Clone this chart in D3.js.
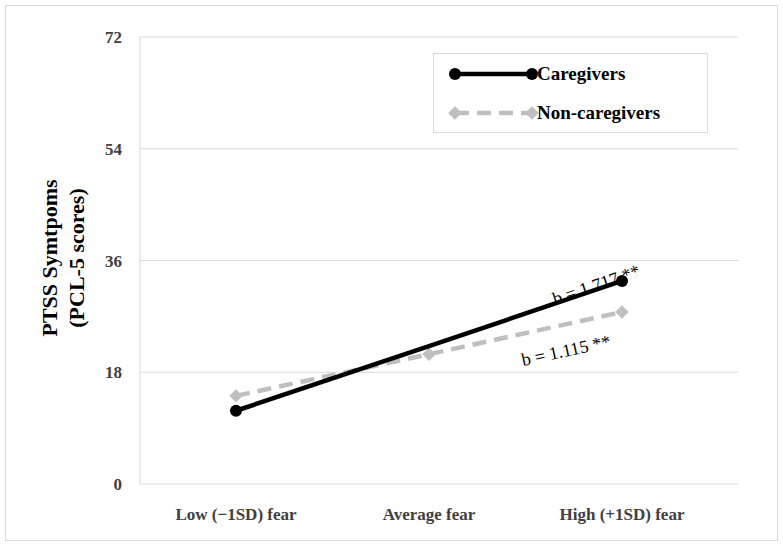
<!DOCTYPE html>
<html><head><meta charset="UTF-8">
<script src="https://d3js.org/d3.v7.min.js"></script>
<style>body{margin:0;background:#fff}text{font-family:"Liberation Serif","DejaVu Serif",serif}</style>
</head><body>
<script>
const categories = ["Low (\u22121SD) fear", "Average fear", "High (+1SD) fear"];
const caregivers = [11.8, 22.2, 32.7];
const nonCaregivers = [14.2, 20.9, 27.7];
const yTicks = [0, 18, 36, 54, 72];

const W = 783, H = 547;
const svg = d3.select("body").append("svg").attr("width", W).attr("height", H);
svg.append("rect").attr("x", 5.5).attr("y", 5.5).attr("width", 772).attr("height", 535)
   .attr("fill", "none").attr("stroke", "#d9d9d9");

const x = d3.scalePoint().domain(categories).range([236, 622]);
const y = d3.scaleLinear().domain([0, 72]).range([484, 37]);

// gridlines
svg.append("g").selectAll("line").data(yTicks).join("line")
   .attr("x1", 140).attr("x2", 738).attr("y1", d => y(d)).attr("y2", d => y(d))
   .attr("stroke", "#d9d9d9");
svg.append("line").attr("x1", 140).attr("x2", 140).attr("y1", y(0)).attr("y2", y(72)).attr("stroke", "#d9d9d9");

svg.append("g").selectAll("text").data(yTicks).join("text")
   .attr("x", 122).attr("y", d => y(d) + 6).attr("text-anchor", "end")
   .attr("font-size", 17).attr("font-weight", "bold").attr("fill", "#404040").text(d => d);
svg.append("g").selectAll("text").data(categories).join("text")
   .attr("x", d => x(d)).attr("y", 520).attr("text-anchor", "middle")
   .attr("font-size", 17).attr("font-weight", "bold").attr("fill", "#404040").text(d => d);

const yl = svg.append("text").attr("transform", "translate(60,258) rotate(-90)")
   .attr("text-anchor", "middle").attr("font-size", 22).attr("font-weight", "bold");
yl.append("tspan").attr("x", 0).attr("dy", -3).text("PTSS Symtpoms");
yl.append("tspan").attr("x", 0).attr("dy", 27).text("(PCL-5 scores)");

const line = d3.line().x((d, i) => x(categories[i])).y(d => y(d));
const diamond = d3.symbol().type(d3.symbolSquare).size(90);
// non-caregivers
svg.append("path").attr("d", line(nonCaregivers)).attr("fill", "none")
   .attr("stroke", "#bfbfbf").attr("stroke-width", 4.5).attr("stroke-dasharray", "14,8");
svg.append("g").selectAll("path").data(nonCaregivers).join("path")
   .attr("d", diamond).attr("fill", "#bfbfbf")
   .attr("transform", (d, i) => `translate(${x(categories[i])},${y(d)}) rotate(45)`);
// caregivers
svg.append("path").attr("d", line(caregivers)).attr("fill", "none")
   .attr("stroke", "#000").attr("stroke-width", 4.5);
svg.append("g").selectAll("circle").data([caregivers[0], caregivers[2]]).join("circle")
   .attr("cx", (d, i) => x(categories[i * 2])).attr("cy", d => y(d)).attr("r", 6).attr("fill", "#000");

// slope labels
const ang1 = Math.atan2(y(caregivers[2]) - y(caregivers[0]), x(categories[2]) - x(categories[0])) * 180 / Math.PI;
const ang2 = Math.atan2(y(nonCaregivers[2]) - y(nonCaregivers[0]), x(categories[2]) - x(categories[0])) * 180 / Math.PI;
svg.append("text").attr("transform", `translate(555,305) rotate(${ang1})`).attr("font-size", 18).text("b = 1.717 **");
svg.append("text").attr("transform", `translate(523,366) rotate(${ang2})`).attr("font-size", 18).text("b = 1.115 **");

// legend
const lg = svg.append("g");
lg.append("rect").attr("x", 433.5).attr("y", 53.5).attr("width", 274).attr("height", 79)
  .attr("fill", "#fff").attr("stroke", "#d9d9d9");
lg.append("line").attr("x1", 455).attr("x2", 532).attr("y1", 74).attr("y2", 74).attr("stroke", "#000").attr("stroke-width", 4.5);
lg.selectAll("circle").data([455, 532]).join("circle").attr("cx", d => d).attr("cy", 74).attr("r", 6);
lg.append("line").attr("x1", 455).attr("x2", 532).attr("y1", 113).attr("y2", 113)
  .attr("stroke", "#bfbfbf").attr("stroke-width", 4.5).attr("stroke-dasharray", "14,8");
lg.selectAll(".d").data([455, 532]).join("path").attr("d", diamond).attr("fill", "#bfbfbf")
  .attr("transform", d => `translate(${d},113) rotate(45)`);
lg.append("text").attr("x", 537).attr("y", 80).attr("font-size", 19).attr("font-weight", "bold").text("Caregivers");
lg.append("text").attr("x", 537).attr("y", 119).attr("font-size", 19).attr("font-weight", "bold").text("Non-caregivers");
</script>
</body></html>
